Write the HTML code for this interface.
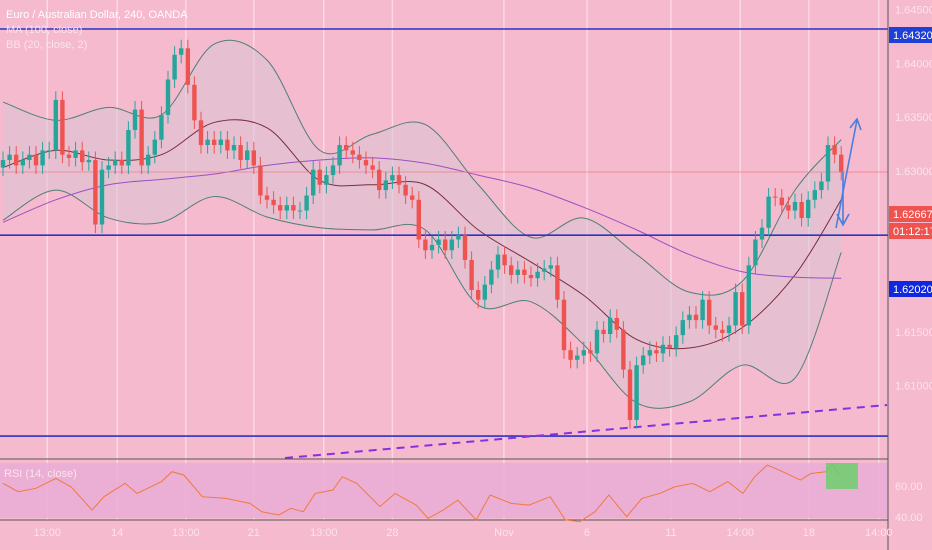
<!DOCTYPE html>
<html><head><meta charset="utf-8"><style>
html,body{margin:0;padding:0;width:932px;height:550px;overflow:hidden;background:#f5bacd;font-family:"Liberation Sans",sans-serif}
svg{display:block}
</style></head><body>
<svg id="chart" width="932" height="550" xmlns="http://www.w3.org/2000/svg"></svg>
<script>
const closes=[1.6310,1.6315,1.6305,1.6310,1.6315,1.6305,1.6319,1.6319,1.6366,1.6315,1.6312,1.6319,1.6308,1.6310,1.6250,1.6301,1.6305,1.6310,1.6305,1.6338,1.6357,1.6305,1.6315,1.6329,1.6352,1.6385,1.6408,1.6414,1.6380,1.6347,1.6324,1.6329,1.6324,1.6329,1.6319,1.6324,1.6310,1.6319,1.6305,1.6277,1.6273,1.6268,1.6263,1.6268,1.6263,1.6263,1.6277,1.6301,1.6287,1.6296,1.6305,1.6324,1.6319,1.6315,1.6310,1.6305,1.6301,1.6282,1.6291,1.6296,1.6287,1.6277,1.6273,1.6236,1.6226,1.6231,1.6236,1.6226,1.6236,1.6240,1.6217,1.6189,1.6180,1.6194,1.6208,1.6222,1.6212,1.6203,1.6208,1.6203,1.6200,1.6206,1.6209,1.6212,1.6180,1.6133,1.6124,1.6128,1.6133,1.6130,1.6152,1.6148,1.6163,1.6152,1.6115,1.6068,1.6119,1.6128,1.6133,1.6130,1.6138,1.6135,1.6147,1.6161,1.6166,1.6161,1.6180,1.6156,1.6152,1.6149,1.6156,1.6187,1.6156,1.6212,1.6236,1.6247,1.6276,1.6275,1.6268,1.6263,1.6271,1.6256,1.6273,1.6282,1.6290,1.6324,1.6315,1.6299];
const firstOpen=1.6303;
const indIdx=[0,8,16,24,32,40,48,56,64,72,80,88,96,104,112,120,127];
const ma100=[1.6252,1.6273,1.6287,1.6292,1.6297,1.6305,1.6310,1.6312,1.6307,1.6296,1.6284,1.6266,1.6245,1.6222,1.6206,1.6201,1.6200];
const bbMid=[1.6303,1.6319,1.6310,1.6315,1.6345,1.6340,1.6291,1.6287,1.6287,1.6245,1.6215,1.6184,1.6143,1.6135,1.6154,1.6203,1.6273];
const bbUp=[1.6364,1.6347,1.6359,1.6352,1.6418,1.6403,1.6319,1.6334,1.6343,1.6287,1.6238,1.6256,1.6222,1.6187,1.6197,1.6282,1.6329];
const bbLow=[1.6254,1.6282,1.6256,1.6252,1.6276,1.6257,1.6247,1.6245,1.6245,1.6175,1.6178,1.6138,1.6084,1.6085,1.6119,1.6107,1.6224];
const rsiIdx=[0,2.3,5,8,10.3,13.5,15.3,18.5,20.3,24,25.6,27.4,30.2,33.8,37.4,39.2,41.8,43.6,45.5,47.3,50,51.4,53.6,57.1,59.4,62.6,64.4,66.7,68.9,71.7,73.8,77,79.7,82.9,85.2,87.4,89.7,91.8,94.5,96.8,99.5,101.8,104.5,107.1,109.8,112.1,113.9,115.8,117.6,120.8,122.4,124.7,125.6,126.7];
const rsiVals=[61.7,56.3,58.5,64.9,59.5,44.5,53.1,61.7,55.2,62.8,69.2,67.1,53.1,52.0,48.8,43.4,41.3,45.6,43.4,55.2,57.4,66.0,61.7,46.7,55.2,47.7,39.1,44.5,50.9,38.1,54.2,48.8,47.7,53.1,38.1,37.0,43.4,54.2,40.2,52.0,55.2,59.5,61.7,56.3,62.8,55.2,66.0,73.5,70.3,63.8,68.1,69.2,74.6,67.1];
const priceTicks=["1.64500","1.64000","1.63500","1.63000","1.61500","1.61000"];
const priceTickVals=[1.645,1.640,1.635,1.630,1.615,1.610];
const hLines=[1.6432,1.6240,1.6053];
const timeLabels=["13:00","14","13:00","21","13:00","28","Nov","6","11","14:00","18","14:00"];
const timeIdx=[6.7,17.3,27.7,38.0,48.6,59.0,75.9,88.5,101.2,111.7,122.1,132.7];

const NS="http://www.w3.org/2000/svg";
const svg=document.getElementById('chart');
const X=i=>3+i*6.6;
const Y=p=>(1.6459-p)/0.0000931;
const RY=v=>486-(v-60)*1.55;
function el(t,a,p){const e=document.createElementNS(NS,t);for(const k in a)e.setAttribute(k,a[k]);(p||svg).appendChild(e);return e;}
function txt(s,a){const e=el('text',a);e.textContent=s;return e;}
function smooth(P){let d='M'+P[0][0]+' '+P[0][1];for(let k=0;k<P.length-1;k++){const p0=P[k-1]||P[k],p1=P[k],p2=P[k+1],p3=P[k+2]||p2;
d+=' C'+(p1[0]+(p2[0]-p0[0])/6)+' '+(p1[1]+(p2[1]-p0[1])/6)+' '+(p2[0]-(p3[0]-p1[0])/6)+' '+(p2[1]-(p3[1]-p1[1])/6)+' '+p2[0]+' '+p2[1];}return d;}

// grid
timeIdx.forEach(i=>{const g=el('line',{x1:X(i),x2:X(i),y1:0,y2:520,stroke:'#fbd8e4','stroke-width':1.5});

});
const band=el('rect',{x:0,y:463,width:888,height:55,fill:'#e9acd6',opacity:0.85});



const upP=indIdx.map((i,k)=>[X(i),Y(bbUp[k])]);
const loP=indIdx.map((i,k)=>[X(i),Y(bbLow[k])]);
const loD=smooth(loP.slice().reverse()).replace(/^M/,'L');
const bf=el('path',{d:smooth(upP)+' '+loD+' Z',fill:'#d9c4d6',opacity:0.55});


function line(arr,color,name,w){const p=el('path',{d:smooth(indIdx.map((i,k)=>[X(i),Y(arr[k])])),fill:'none',stroke:color,'stroke-width':w||1});

}
line(bbUp,'#4f7f74','bb-upper');
line(bbLow,'#4f7f74','bb-lower');
line(bbMid,'#7a2c3c','bb-basis');
line(ma100,'#9a4fc4','ma-100');

hLines.forEach(p=>{const h=el('line',{x1:0,x2:888,y1:Y(p),y2:Y(p),stroke:'#2b33c8','stroke-width':1.6});

});
const pl=el('line',{x1:0,x2:888,y1:172,y2:172,stroke:'#ef7a8a','stroke-width':0.8});


const tl=el('line',{x1:285,y1:458,x2:887,y2:405,stroke:'#8a2fe0','stroke-width':2,'stroke-dasharray':'8,6'});



closes.forEach((c,i)=>{const o=i?closes[i-1]:firstOpen;const up=c>=o;const col=up?'#26a69a':'#ef5350';
const hi=Math.max(o,c)+0.0008,lo=Math.min(o,c)-0.0008;
const w=el('line',{x1:X(i),x2:X(i),y1:Y(hi),y2:Y(lo),stroke:col,'stroke-width':1});


const b=el('rect',{x:X(i)-2.2,y:Y(Math.max(o,c)),width:4.4,height:Math.max(1,Y(Math.min(o,c))-Y(Math.max(o,c))),fill:col});

});

const a1=el('path',{d:'M836 228 L857 120 M850 128 L857 119 L861 130',fill:'none',stroke:'#4a7fe0','stroke-width':1.6});


const a2=el('path',{d:'M843 172 L843 225 M837 214 L843 225 L849 214',fill:'none',stroke:'#4a7fe0','stroke-width':1.6});



const sep=el('line',{x1:0,x2:888,y1:459,y2:459,stroke:'#555','stroke-width':1});


const ta=el('line',{x1:0,x2:888,y1:520,y2:520,stroke:'#555','stroke-width':1});


const pa=el('line',{x1:888,x2:888,y1:0,y2:550,stroke:'#555','stroke-width':1});



const rl=el('polyline',{points:rsiIdx.map((i,k)=>X(i)+','+RY(rsiVals[k])).join(' '),fill:'none',stroke:'#f07a3c','stroke-width':1});


const gb=el('rect',{x:826,y:463,width:32,height:26,fill:'#6ccf6c',opacity:0.85});



priceTicks.forEach((s,k)=>{const t=txt(s,{x:895,y:Y(priceTickVals[k])+4,fill:'#fbe3ec','font-size':11});

});
function tag(s,y,bg,name){const r=el('rect',{x:889,y:y-8,width:43,height:16,fill:bg});


const t=txt(s,{x:893,y:y+4,fill:'#fff','font-size':11});

}
tag('1.64320',Y(1.6432)+6,'#1f3fd6','level-label-top');
tag('1.62667',214,'#ef5350','current-price-label');
tag('01:12:17',231,'#ef5350','countdown-label');
tag('1.62020',289,'#1027e0','level-label-mid');
['60.00','40.00'].forEach((s,k)=>{const t=txt(s,{x:895,y:[490,521][k],fill:'#fbe3ec','font-size':11});

});

timeLabels.forEach((s,k)=>{const t=txt(s,{x:X(timeIdx[k]),y:536,fill:'#fbe3ec','font-size':11,'text-anchor':'middle'});

});

[['Euro / Australian Dollar, 240, OANDA',18,'#fff'],['MA (100, close)',33,'#fbe3ec'],['BB (20, close, 2)',48,'#fbe3ec']].forEach(([s,y,c])=>{const t=txt(s,{x:6,y:y,fill:c,'font-size':11});

});
const rt=txt('RSI (14, close)',{x:4,y:477,fill:'#fbe3ec','font-size':11});


</script>
</body></html>
